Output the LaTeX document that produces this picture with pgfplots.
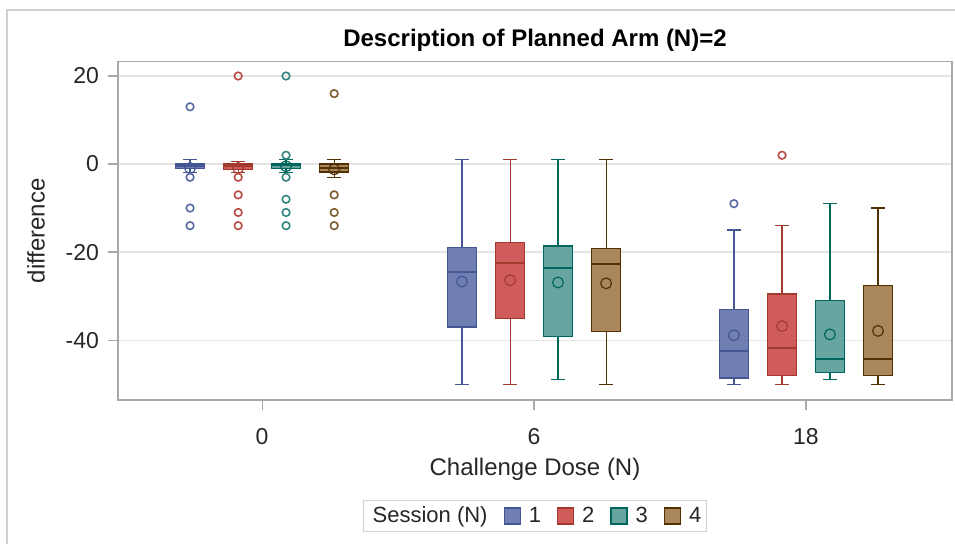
\documentclass[border=0pt]{standalone}
\usepackage{fontspec}
\setmainfont{Liberation Sans}
\usepackage{pgfplots}
\pgfplotsset{compat=1.18}
\usepgfplotslibrary{statistics}
\definecolor{c1f}{HTML}{6F7EB3}
\definecolor{c1e}{HTML}{445694}
\definecolor{c2f}{HTML}{D05B5B}
\definecolor{c2e}{HTML}{A23A2E}
\definecolor{c3f}{HTML}{66A5A0}
\definecolor{c3e}{HTML}{01665E}
\definecolor{c4f}{HTML}{A9865B}
\definecolor{c4e}{HTML}{543005}
\definecolor{axgray}{HTML}{A8A8A8}
\definecolor{gridgray}{HTML}{E4E4E4}
\definecolor{framegray}{HTML}{D0D0D0}
\pgfplotsset{
  sasbox/.style n args={2}{% fill, edge
    forget plot,
    draw=#2, fill=#1, line width=0.6pt,
    mark=o, mark size=1.9pt,
    mark options={draw=#1!50!#2, line width=0.8pt, fill=none, solid},
    boxplot/draw direction=y,
    boxplot/box extend=0.108,
    boxplot/whisker extend=0.05,
    boxplot/every median/.style={line width=1pt, draw=#2},
    boxplot/every average/.style={/tikz/mark=o, /tikz/mark size=2.7pt, /tikz/line width=0.9pt, draw=#2, fill=none},
  },
}
\begin{document}
\begin{tikzpicture}
\useasboundingbox (0pt,0pt) rectangle (477.5pt,271.5pt);
\draw[line width=1pt, framegray] (3.65pt,-2pt) -- (3.65pt,266.5pt) -- (480pt,266.5pt);
\begin{axis}[
  at={(59pt,71.5pt)}, anchor=south west,
  scale only axis, width=417pt, height=169.15pt,
  xmin=-0.53, xmax=2.537, ymin=-53.6, ymax=23.25,
  xtick={0,1,2}, xticklabels={0,6,18},
  ytick={-40,-20,0,20},
  /pgf/number format/assume math mode=true,
  tick align=outside, major tick length=5pt,
  xtick pos=bottom, ytick pos=left,
  tick style={axgray, line width=0.6pt},
  axis line style={axgray, line width=0.8pt},
  ymajorgrids, major grid style={gridgray, line width=0.6pt},
  tick label style={font=\fontsize{11.5}{13}\selectfont, black!85},
  xticklabel style={yshift=-5.5pt},
  yticklabel style={xshift=-1pt},
  title={Description of Planned Arm (N)=2},
  title style={font=\bfseries\fontsize{12}{14}\selectfont, at={(0.5,1)}, anchor=center, yshift=4.5pt},
  xlabel={Challenge Dose (N)},
  xlabel style={font=\fontsize{12}{14}\selectfont, black!85, at={(0.5,0)}, anchor=center, yshift=-34.5pt},
  ylabel={difference},
  ylabel style={font=\fontsize{12}{14}\selectfont, black!85, at={(0,0.5)}, anchor=center, yshift=41pt},
  legend columns=5,
  legend style={at={(0.5,-0.2956)}, anchor=north, draw=framegray, line width=0.6pt,
    font=\fontsize{11}{13}\selectfont, text=black!85,
    inner xsep=0.5pt, inner ysep=1pt,
    nodes={inner ysep=2pt},
    /tikz/every odd column/.append style={column sep=2pt},
    /tikz/every even column/.append style={column sep=6pt}},
]
% ---- Challenge dose 0 ----
\addplot[sasbox={c1f}{c1e}, boxplot prepared={draw position=-0.265, lower whisker=-2, lower quartile=-1, median=-0.5, average=-0.9, upper quartile=0, upper whisker=1}] coordinates {(0,13) (0,-3) (0,-10) (0,-14)};
\addplot[sasbox={c2f}{c2e}, boxplot prepared={draw position=-0.088, lower whisker=-2, lower quartile=-1.2, median=-0.5, average=-0.9, upper quartile=0, upper whisker=0.5}] coordinates {(0,20) (0,-3) (0,-7) (0,-11) (0,-14)};
\addplot[sasbox={c3f}{c3e}, boxplot prepared={draw position=0.088, lower whisker=-2, lower quartile=-1, median=-0.3, average=-0.5, upper quartile=0, upper whisker=1}] coordinates {(0,20) (0,2) (0,-3) (0,-8) (0,-11) (0,-14)};
\addplot[sasbox={c4f}{c4e}, boxplot prepared={draw position=0.265, lower whisker=-3, lower quartile=-1.8, median=-1, average=-1.2, upper quartile=0, upper whisker=1}] coordinates {(0,16) (0,-7) (0,-11) (0,-14)};
% ---- Challenge dose 6 ----
\addplot[sasbox={c1f}{c1e}, boxplot prepared={draw position=0.735, lower whisker=-50, lower quartile=-37.0, median=-24.6, average=-26.7, upper quartile=-19.0, upper whisker=1}] coordinates {};
\addplot[sasbox={c2f}{c2e}, boxplot prepared={draw position=0.912, lower whisker=-50, lower quartile=-35.1, median=-22.4, average=-26.4, upper quartile=-17.9, upper whisker=1}] coordinates {};
\addplot[sasbox={c3f}{c3e}, boxplot prepared={draw position=1.088, lower whisker=-49, lower quartile=-39.1, median=-23.6, average=-26.9, upper quartile=-18.6, upper whisker=1}] coordinates {};
\addplot[sasbox={c4f}{c4e}, boxplot prepared={draw position=1.265, lower whisker=-50, lower quartile=-38.0, median=-22.6, average=-27.1, upper quartile=-19.1, upper whisker=1}] coordinates {};
% ---- Challenge dose 18 ----
\addplot[sasbox={c1f}{c1e}, boxplot prepared={draw position=1.735, lower whisker=-50, lower quartile=-48.6, median=-42.4, average=-38.9, upper quartile=-33.0, upper whisker=-15}] coordinates {(0,-9)};
\addplot[sasbox={c2f}{c2e}, boxplot prepared={draw position=1.912, lower whisker=-50, lower quartile=-48.0, median=-41.9, average=-36.8, upper quartile=-29.5, upper whisker=-14}] coordinates {(0,2)};
\addplot[sasbox={c3f}{c3e}, boxplot prepared={draw position=2.088, lower whisker=-49, lower quartile=-47.4, median=-44.2, average=-38.7, upper quartile=-31.0, upper whisker=-9}] coordinates {};
\addplot[sasbox={c4f}{c4e}, boxplot prepared={draw position=2.265, lower whisker=-50, lower quartile=-48.0, median=-44.2, average=-37.9, upper quartile=-27.5, upper whisker=-10}] coordinates {};
% ---- legend ----
\addlegendimage{empty legend}
\addlegendentry{Session (N)\hspace{13pt}}
\addlegendimage{legend image code/.code={\draw[draw=c1e, fill=c1f, line width=0.6pt] (0pt,-4pt) rectangle (8pt,4pt);}}
\addlegendentry{1}
\addlegendimage{legend image code/.code={\draw[draw=c2e, fill=c2f, line width=0.6pt] (0pt,-4pt) rectangle (8pt,4pt);}}
\addlegendentry{2}
\addlegendimage{legend image code/.code={\draw[draw=c3e, fill=c3f, line width=0.6pt] (0pt,-4pt) rectangle (8pt,4pt);}}
\addlegendentry{3}
\addlegendimage{legend image code/.code={\draw[draw=c4e, fill=c4f, line width=0.6pt] (0pt,-4pt) rectangle (8pt,4pt);}}
\addlegendentry{4}
\end{axis}
\end{tikzpicture}
\end{document}
